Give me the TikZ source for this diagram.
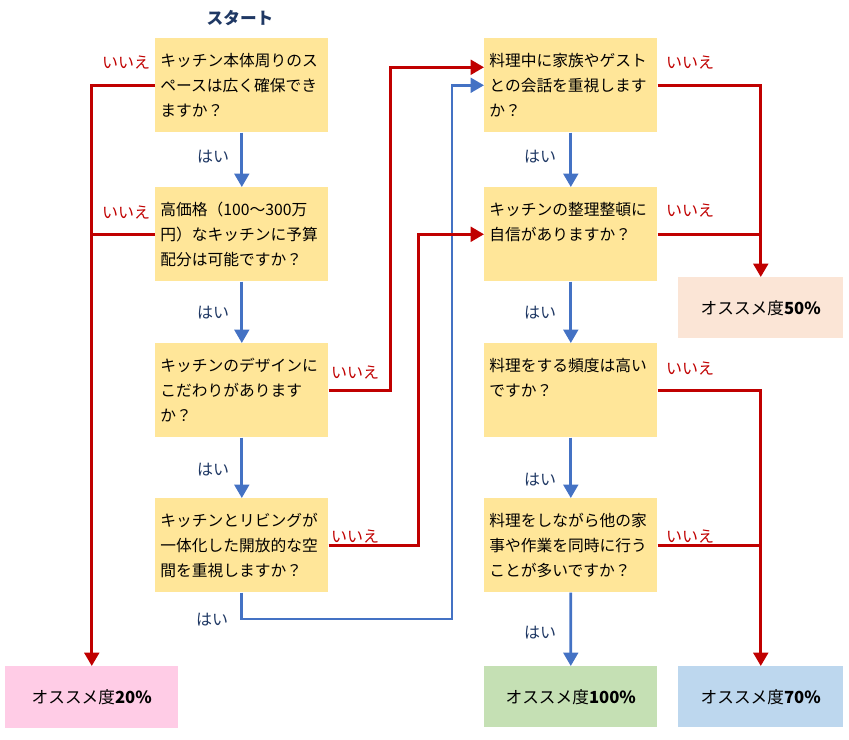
\documentclass[tikz,border=0pt]{standalone}
\usepackage{fontspec}
\setmainfont{Noto Sans CJK JP}
\usetikzlibrary{arrows.meta}
\definecolor{qfill}{HTML}{FFE699}
\definecolor{nored}{HTML}{C00000}
\definecolor{yesblue}{HTML}{4472C4}
\definecolor{navy}{HTML}{1F3864}
\definecolor{pinkfill}{HTML}{FFCCE6}
\definecolor{greenfill}{HTML}{C5E0B4}
\definecolor{bluefill}{HTML}{BDD7EE}
\definecolor{peachfill}{HTML}{FBE5D6}

\begin{document}
\begin{tikzpicture}[
    x=0.75pt, y=-0.75pt,
    question/.style={fill=qfill, anchor=north west, minimum width=129.75pt,
        minimum height=70.5pt, text width=122pt, inner xsep=3.9pt, align=left,
        font={\fontsize{11.8}{18.75}\selectfont}},
    result/.style={anchor=north west, minimum height=46.5pt,
        font={\fontsize{12.5}{15}\selectfont}},
    yes/.style={draw=yesblue, line width=2pt, -{Triangle[width=11pt,length=10pt]}},
    no/.style={draw=nored, line width=2.2pt, -{Triangle[width=11pt,length=10pt]}},
    nojoin/.style={draw=nored, line width=2.2pt},
    yeslabel/.style={text=navy, font={\fontsize{12}{14}\selectfont}},
    nolabel/.style={text=nored, font={\fontsize{12}{14}\selectfont}},
]
    \useasboundingbox (0,0) rectangle (849,739);

    \node (start) [text=navy, font={\fontsize{12.5}{15}\selectfont\bfseries}] at (240,18) {スタート};

    \node (q1) [question] at (155,38) {キッチン本体周りのス\\ペースは広く確保でき\\ますか？};
    \node (q2) [question] at (155,187) {高価格（100～300万\\円）なキッチンに予算\\配分は可能ですか？};
    \node (q3) [question] at (155,343) {キッチンのデザインに\\こだわりがあります\\か？};
    \node (q4) [question] at (155,498) {キッチンとリビングが\\一体化した開放的な空\\間を重視しますか？};

    \node (r1) [question] at (484,38) {料理中に家族やゲスト\\との会話を重視します\\か？};
    \node (r2) [question] at (484,187) {キッチンの整理整頓に\\自信がありますか？\\\mbox{}};
    \node (r3) [question] at (484,343) {料理をする頻度は高い\\ですか？\\\mbox{}};
    \node (r4) [question] at (484,498) {料理をしながら他の家\\事や作業を同時に行う\\ことが多いですか？};

    \node (res20) [result, fill=pinkfill, minimum width=129.75pt] at (5,666) {オススメ度\textbf{20\%}};
    \node (res100) [result, fill=greenfill, minimum width=129.75pt, minimum height=45.75pt] at (484,666) {オススメ度\textbf{100\%}};
    \node (res70) [result, fill=bluefill, minimum width=123.75pt, minimum height=45.75pt] at (678,666) {オススメ度\textbf{70\%}};
    \node (res50) [result, fill=peachfill, minimum width=123.75pt, minimum height=45.75pt] at (678,277) {オススメ度\textbf{50\%}};

    \coordinate (yturn) at (452,619);

    \draw[yes] (q1) -- (q2);
    \draw[yes] (q2) -- (q3);
    \draw[yes] (q3) -- (q4);
    \draw[yes] (q4.south) |- (yturn) |- (r1.west);
    \draw[yes] (r1) -- (r2);
    \draw[yes] (r2) -- (r3);
    \draw[yes] (r3) -- (r4);
    \draw[yes] (r4) -- (res100);

    \draw[no] (q1.west) -| (res20.north);
    \draw[nojoin] (q2.west) -- (q2.west -| res20.north);
    \draw[no] (q3.east) -- ++(62,0) |- ([yshift=13.5pt]r1.west);
    \draw[no] (q4.east) -- ++(90,0) |- (r2.west);
    \draw[no] (r1.east) -| (res50.north);
    \draw[nojoin] (r2.east) -- (r2.east -| res50.north);
    \draw[no] (r3.east) -| (res70.north);
    \draw[nojoin] (r4.east) -- (r4.east -| res70.north);

    \node (n1) [nolabel] at (126,63) {いいえ};
    \node (n2) [nolabel] at (126,213) {いいえ};
    \node (n3) [nolabel] at (355,373) {いいえ};
    \node (n4) [nolabel] at (355,537) {いいえ};
    \node (n5) [nolabel] at (690,63) {いいえ};
    \node (n6) [nolabel] at (690,211) {いいえ};
    \node (n7) [nolabel] at (690,369) {いいえ};
    \node (n8) [nolabel] at (690,537) {いいえ};

    \node (y1) [yeslabel] at (213,157) {はい};
    \node (y2) [yeslabel] at (213,313) {はい};
    \node (y3) [yeslabel] at (213,470) {はい};
    \node (y4) [yeslabel] at (212,620) {はい};
    \node (y5) [yeslabel] at (540,157) {はい};
    \node (y6) [yeslabel] at (540,313) {はい};
    \node (y7) [yeslabel] at (540,480) {はい};
    \node (y8) [yeslabel] at (540,633) {はい};
\end{tikzpicture}
\end{document}
